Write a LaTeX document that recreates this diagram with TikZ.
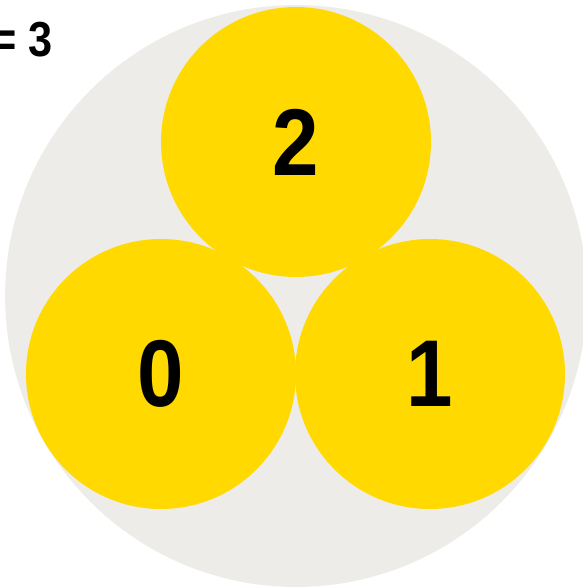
\documentclass[tikz,border=0pt]{standalone}
\usepackage{fontspec}
\setmainfont{Liberation Sans}
\definecolor{ballyellow}{RGB}{255,217,0}
\definecolor{bowlgrey}{RGB}{237,236,232}
\begin{document}
\begin{tikzpicture}[x=0.02cm,y=-0.02cm]
\tikzstyle{bowl}=[circle,fill=bowlgrey,minimum size=11.64cm,inner sep=0pt]
\tikzstyle{ball}=[circle,fill=ballyellow,minimum size=5.4cm,inner sep=0pt,
  font=\fontsize{54}{54}\selectfont\bfseries]

\useasboundingbox (0,0) rectangle (583,587);
\clip (0,0) rectangle (583,587);

\node[bowl] (bowl) at (296,296) {};

\node[ball] (n2) at (296,142) {\scalebox{0.88}[1]{2}};
\node[ball] (n0) at (161,374) {\scalebox{0.88}[1]{0}};
\node[ball] (n1) at (430,374) {\scalebox{0.88}[1]{1}};

\node[anchor=base east,inner sep=0pt,font=\fontsize{28}{28}\selectfont\bfseries]
  (count) at (53,57) {\scalebox{0.88}[1]{= 3}};

\end{tikzpicture}
\end{document}
